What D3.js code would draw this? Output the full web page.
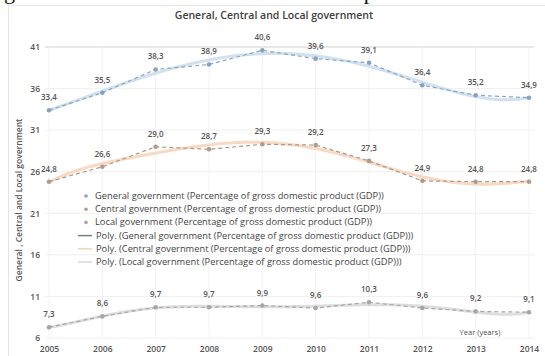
<!DOCTYPE html>
<html><head><meta charset="utf-8">
<script src="https://cdn.jsdelivr.net/npm/d3@7"></script>
<style>body{margin:0;background:#fff;}svg{display:block;font-family:"Open Sans",sans-serif;}</style>
</head><body><svg id="c" width="545" height="356"></svg>
<script>
const years = [2005,2006,2007,2008,2009,2010,2011,2012,2013,2014];
const general = [33.4,35.5,38.3,38.9,40.6,39.6,39.1,36.4,35.2,34.9];
const central = [24.8,26.6,29.0,28.7,29.3,29.2,27.3,24.9,24.8,24.8];
const local = [7.3,8.6,9.7,9.7,9.9,9.6,10.3,9.6,9.2,9.1];
const yTicks = [6,11,16,21,26,31,36,41];
const seriesNames = ["General government  (Percentage of gross domestic product (GDP))",
  "Central government (Percentage of gross domestic product (GDP))",
  "Local government (Percentage of gross domestic product (GDP))"];

const svg = d3.select("#c");
const x = d3.scalePoint().domain(years).range([49,529]);
const y = d3.scaleLinear().domain([6,41]).range([338,47]);

// clipped heading above chart (only its lower edge is visible in the reference)
svg.append("text").attr("x",4).attr("y",-1).attr("font-family","Liberation Serif, serif")
  .attr("font-size",22).attr("fill","#111").text("governments at state of economic development");

// chart border
svg.append("rect").attr("x",8.5).attr("y",5.5).attr("width",540).attr("height",360).attr("fill","none").attr("stroke","#e4e4e4");

svg.append("text").attr("x",274).attr("y",19).attr("text-anchor","middle").attr("font-size",10.5)
  .attr("font-weight",600).attr("fill","#404040").text("General, Central and Local government");

// gridlines
svg.append("g").selectAll("line").data(yTicks).join("line")
  .attr("x1",45).attr("x2",534).attr("y1",d=>y(d)).attr("y2",d=>y(d))
  .attr("stroke",d=>d===41?"#d0d0d0":"#f0f0f0");
svg.append("g").selectAll("line").data(years).join("line")
  .attr("x1",d=>x(d)).attr("x2",d=>x(d)).attr("y1",47).attr("y2",338)
  .attr("stroke","#f2f2f2");

// y axis
const ya = d3.axisLeft(y).tickValues(yTicks).tickSize(0).tickPadding(0);
svg.append("g").attr("transform","translate(40,0)").call(ya)
  .call(g=>g.select(".domain").remove())
  .selectAll("text").attr("font-size",8.5).attr("font-weight",600).attr("fill","#555").attr("font-family","Open Sans");
// x axis
const xa = d3.axisBottom(x).tickSize(0).tickPadding(0).tickFormat(d3.format("d"));
svg.append("g").attr("transform","translate(0,346)").call(xa)
  .call(g=>g.select(".domain").remove())
  .selectAll("text").attr("font-size",8.5).attr("font-weight",600).attr("fill","#555").attr("font-family","Open Sans");

svg.append("text").attr("transform","translate(22,200) rotate(-90)").attr("text-anchor","middle")
  .attr("font-size",8.5).attr("font-weight",600).attr("fill","#555").text("General , Central and Local government");
svg.append("text").attr("x",480).attr("y",335).attr("text-anchor","middle").attr("font-size",7.5)
  .attr("fill","#555").text("Year (years)");

// polynomial trend (least squares, order 6)
function polyFit(vals, order){
  const n=vals.length, xs=vals.map((v,i)=>(i-(n-1)/2)/((n-1)/2));
  const m=order+1, A=[];
  for(let r=0;r<m;r++){A.push([]);for(let c=0;c<=m;c++)A[r].push(0);}
  for(let i=0;i<n;i++){for(let r=0;r<m;r++){for(let c=0;c<m;c++)A[r][c]+=Math.pow(xs[i],r+c);A[r][m]+=vals[i]*Math.pow(xs[i],r);}}
  for(let p=0;p<m;p++){let mx=p;for(let r=p+1;r<m;r++)if(Math.abs(A[r][p])>Math.abs(A[mx][p]))mx=r;[A[p],A[mx]]=[A[mx],A[p]];
    for(let r=0;r<m;r++){if(r===p)continue;const f=A[r][p]/A[p][p];for(let c=p;c<=m;c++)A[r][c]-=f*A[p][c];}}
  const coef=A.map((row,i)=>row[m]/row[i]);
  return t=>{const u=(t-(n-1)/2)/((n-1)/2);return coef.reduce((s,c,k)=>s+c*Math.pow(u,k),0);};
}

const series = [
  {vals:general, line:"#8fa6bf", dot:"#8aa2bd", trend:"#c9dcef"},
  {vals:central, line:"#a8998c", dot:"#b09c8a", trend:"#f7d2b8"},
  {vals:local, line:"#a6a6a6", dot:"#a6a6a6", trend:"#d8d8d8"}
];
const xi = d3.scaleLinear().domain([0,years.length-1]).range([x(years[0]),x(years[years.length-1])]);
series.forEach(s=>{
  const f=polyFit(s.vals,6);
  const pts=d3.range(0,years.length-1+0.001,0.05).map(t=>[xi(t),y(f(t))]);
  svg.append("path").attr("d",d3.line().curve(d3.curveLinear)(pts)).attr("fill","none")
    .attr("stroke",s.trend).attr("stroke-width",3).attr("opacity",0.85);
});
series.forEach(s=>{
  svg.append("path").datum(s.vals).attr("d",d3.line().x((d,i)=>x(years[i])).y(d=>y(d)))
    .attr("fill","none").attr("stroke",s.line).attr("stroke-width",1.2).attr("stroke-dasharray","4,3");
  svg.append("g").selectAll("circle").data(s.vals).join("circle")
    .attr("cx",(d,i)=>x(years[i])).attr("cy",d=>y(d)).attr("r",2.3).attr("fill",s.dot);
  svg.append("g").selectAll("text").data(s.vals).join("text")
    .attr("x",(d,i)=>x(years[i])).attr("y",d=>y(d)-10).attr("text-anchor","middle")
    .attr("font-size",8).attr("font-weight",600).attr("fill","#555")
    .text(d=>d3.format(".1f")(d).replace(".",","));
});

// legend
const lg = svg.append("g").attr("font-size",9.3).attr("fill","#444");
series.forEach((s,i)=>{
  const yy=199+i*13.2;
  lg.append("circle").attr("cx",86).attr("cy",yy-3).attr("r",1.8).attr("fill",s.dot);
  lg.append("text").attr("x",95).attr("y",yy).text(seriesNames[i]);
});
series.forEach((s,i)=>{
  const yy=199+(i+3)*13.2;
  lg.append("line").attr("x1",78).attr("x2",92).attr("y1",yy-3).attr("y2",yy-3).attr("stroke",i===0?"#6f7f90":s.trend).attr("stroke-width",1.5);
  lg.append("text").attr("x",96).attr("y",yy).text("Poly. ("+seriesNames[i]+")");
});
</script></body></html>
